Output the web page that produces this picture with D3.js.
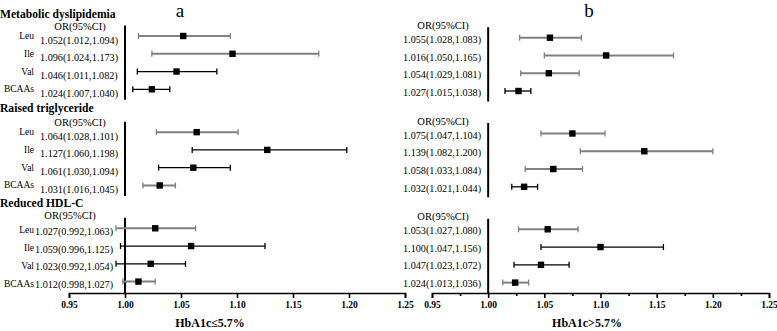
<!DOCTYPE html>
<html lang="en">
<head>
    <meta charset="UTF-8">
    <title>BCAAs forest plot</title>
    <script src="https://d3js.org/d3.v7.min.js"></script>
    <style>
        body { margin: 0; background: #fff; }
        text { font-family: "Liberation Serif", "DejaVu Serif", serif; fill: #000; }
        .head { font-size: 11.6px; font-weight: bold; }
        .orhead { font-size: 10.5px; }
        .ortext { font-size: 10.2px; }
        .rowlab { font-size: 9.5px; }
        .panel-title { font-size: 19px; }
        .axis text { font-size: 9.5px; font-weight: bold; font-family: "Liberation Serif", serif; }
        .axis path, .axis line { stroke: #000; stroke-width: 1.6px; }
        .xtitle { font-size: 12px; font-weight: bold; text-anchor: middle; }
    </style>
</head>
<body>
    <svg width="777" height="331"></svg>
    <script>
        const width = 777, height = 331;

        // ---- data ----
        const groups = ["Metabolic dyslipidemia", "Raised triglyceride", "Reduced HDL-C"];
        const markers = ["Leu", "Ile", "Val", "BCAAs"];
        const ticks = [0.95, 1.00, 1.05, 1.10, 1.15, 1.20, 1.25];
        const minorTicks = [0.975, 1.025, 1.075, 1.125, 1.175, 1.225];

        // panel a: HbA1c <= 5.7%
        const orA = [1.052, 1.096, 1.046, 1.024, 1.064, 1.127, 1.061, 1.031, 1.027, 1.059, 1.023, 1.012];
        const loA = [1.012, 1.024, 1.011, 1.007, 1.028, 1.060, 1.030, 1.016, 0.992, 0.996, 0.992, 0.998];
        const hiA = [1.094, 1.173, 1.082, 1.040, 1.101, 1.198, 1.094, 1.045, 1.063, 1.125, 1.054, 1.027];
        const textA = ["1.052(1.012,1.094)", "1.096(1.024,1.173)", "1.046(1.011,1.082)", "1.024(1.007,1.040)",
                       "1.064(1.028,1.101)", "1.127(1.060,1.198)", "1.061(1.030,1.094)", "1.031(1.016,1.045)",
                       "1.027(0.992,1.063)", "1.059(0.996,1.125)", "1.023(0.992,1.054)", "1.012(0.998,1.027)"];

        // panel b: HbA1c > 5.7%
        const orB = [1.055, 1.105, 1.054, 1.027, 1.075, 1.139, 1.058, 1.032, 1.053, 1.100, 1.047, 1.024];
        const loB = [1.028, 1.050, 1.029, 1.015, 1.047, 1.082, 1.033, 1.021, 1.027, 1.047, 1.023, 1.013];
        const hiB = [1.083, 1.165, 1.081, 1.038, 1.104, 1.200, 1.084, 1.044, 1.080, 1.156, 1.072, 1.036];
        const textB = ["1.055(1.028,1.083)", "1.016(1.050,1.165)", "1.054(1.029,1.081)", "1.027(1.015,1.038)",
                       "1.075(1.047,1.104)", "1.139(1.082,1.200)", "1.058(1.033,1.084)", "1.032(1.021,1.044)",
                       "1.053(1.027,1.080)", "1.100(1.047,1.156)", "1.047(1.023,1.072)", "1.024(1.013,1.036)"];

        // ---- styling (grey / black whiskers as drawn) ----
        const toneA = ["g", "g", "k", "k", "g", "k", "k", "g", "g", "k", "k", "g"];
        const toneB = ["g", "g", "g", "k", "g", "g", "g", "k", "g", "k", "k", "g"];
        const grey = "#808080";

        const svg = d3.select("svg");

        const panels = [
            { name: "a", or: orA, lo: loA, hi: hiA, text: textA, tone: toneA,
              xr: [69, 405], yr: [36, 228.3], titleX: 180, titleY: 17, xtitle: "HbA1c\u22645.7%", xtitleX: 210,
              textX: [40, 40, 35], textDy: [4, 4, 3], orHeadX: [80, 80, 70], orHeadY: [29.5, 125.5, 219],
              minor: false, labels: true },
            { name: "b", or: orB, lo: loB, hi: hiB, text: textB, tone: toneB,
              xr: [432, 769], yr: [37.7, 229.3], titleX: 589, titleY: 17, xtitle: "HbA1c>5.7%", xtitleX: 587,
              textX: [403, 403, 403], textDy: [1.5, 1.5, 1], orHeadX: [443, 443, 443], orHeadY: [28.5, 124.5, 219.5],
              minor: true, labels: false }
        ];

        const axisY = 293;
        const rowY = d3.scaleLinear().domain([0, 3]).range([0, 53.3]);

        panels.forEach(p => {
            const x = d3.scaleLinear().domain([0.95, 1.25]).range(p.xr);
            const gy = d3.scaleLinear().domain([0, 2]).range(p.yr);
            const g = svg.append("g");

            g.append("text").attr("class", "panel-title")
                .attr("x", p.titleX).attr("y", p.titleY)
                .attr("text-anchor", "middle").text(p.name);

            // axis
            g.append("g").attr("class", "axis")
                .attr("transform", `translate(0,${axisY})`)
                .call(d3.axisBottom(x).tickValues(ticks).tickFormat(d3.format(".2f"))
                    .tickSize(5).tickSizeOuter(5).tickPadding(3.5));
            if (p.minor) {
                g.append("g").attr("class", "axis")
                    .attr("transform", `translate(0,${axisY})`)
                    .call(d3.axisBottom(x).tickValues(minorTicks).tickFormat("").tickSize(3).tickSizeOuter(0))
                    .select(".domain").remove();
            }

            g.append("text").attr("class", "xtitle")
                .attr("x", p.xtitleX).attr("y", 327).text(p.xtitle);

            groups.forEach((grp, gi) => {
                const y0 = gy(gi);
                if (p.labels) {
                    g.append("text").attr("class", "head")
                        .attr("x", 0).attr("y", [18, 112, 207][gi]).text(grp);
                }
                g.append("text").attr("class", "orhead")
                    .attr("x", p.orHeadX[gi]).attr("y", p.orHeadY[gi])
                    .attr("text-anchor", "middle").text("OR(95%CI)");

                // reference line at OR = 1
                g.append("line")
                    .attr("x1", x(1)).attr("x2", x(1))
                    .attr("y1", y0 - 10.5)
                    .attr("y2", gi === 2 ? axisY : y0 + rowY(3) + 10.5)
                    .attr("stroke", "#000").attr("stroke-width", 2);

                markers.forEach((m, mi) => {
                    const i = gi * 4 + mi;
                    const y = y0 + rowY(mi);
                    const col = p.tone[i] === "g" ? grey : "#000";
                    const sw = p.tone[i] === "g" ? 2 : 1.3;

                    if (p.labels) {
                        g.append("text").attr("class", "rowlab")
                            .attr("x", 34).attr("y", y + (gi === 2 ? 2 : 0))
                            .attr("dy", "0.32em")
                            .attr("text-anchor", "end").text(m);
                    }
                    g.append("text").attr("class", "ortext")
                        .attr("x", p.textX[gi]).attr("y", y + p.textDy[gi])
                        .attr("dy", "0.35em").text(p.text[i]);

                    const row = g.append("g");
                    row.append("line")
                        .attr("x1", x(p.lo[i])).attr("x2", x(p.hi[i]))
                        .attr("y1", y).attr("y2", y)
                        .attr("stroke", col).attr("stroke-width", sw);
                    [p.lo[i], p.hi[i]].forEach(v => {
                        row.append("line")
                            .attr("x1", x(v)).attr("x2", x(v))
                            .attr("y1", y - 3).attr("y2", y + 3)
                            .attr("stroke", col).attr("stroke-width", 1.3);
                    });
                    row.append("rect")
                        .attr("x", x(p.or[i]) - 3.2).attr("y", y - 3.2)
                        .attr("width", 6.4).attr("height", 6.4)
                        .attr("fill", "#000");
                });
            });
        });
    </script>
</body>
</html>
